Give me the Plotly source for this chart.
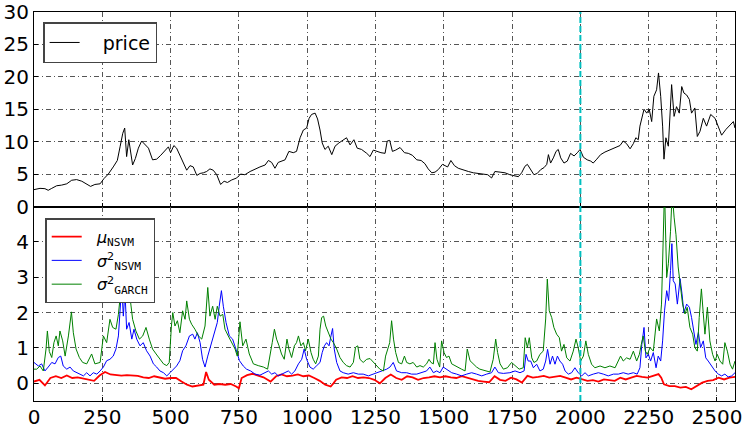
import plotly.graph_objects as go

# ---- data ----
price_t = [0,22,40,52,65,83,101,120,138,156,175,193,207,223,242,256,272,290,305,315,325,332,339,347,354,361,371,382,394,406,419,434,449,464,480,492,500,512,522,534,549,559,571,583,596,608,620,632,644,656,669,683,696,708,724,742,756,772,791,809,827,846,858,870,882,894,906,919,933,949,961,974,986,998,1007,1016,1029,1038,1047,1055,1065,1077,1090,1102,1116,1132,1144,1157,1171,1183,1199,1218,1230,1242,1254,1270,1285,1293,1302,1312,1324,1340,1356,1370,1385,1401,1417,1431,1443,1456,1468,1480,1495,1504,1514,1526,1539,1553,1571,1590,1608,1626,1645,1661,1675,1687,1706,1724,1742,1761,1773,1785,1797,1806,1818,1830,1842,1855,1867,1877,1883,1891,1901,1911,1919,1928,1940,1952,1964,1977,1989,1999,2011,2025,2038,2047,2060,2074,2090,2106,2121,2133,2145,2157,2169,2182,2194,2203,2212,2218,2224,2233,2243,2252,2261,2269,2279,2286,2294,2301,2306,2313,2322,2328,2334,2343,2352,2362,2371,2379,2389,2399,2407,2419,2428,2438,2450,2462,2477,2493,2505,2517,2533,2548,2560,2566]
price = [2.6,2.8,2.75,2.5,2.8,3.2,3.3,3.5,4.05,4.15,3.9,3.5,3.1,3.4,3.5,4.3,5.0,6.1,7.1,9.2,11.3,12.1,7.7,10.3,8.5,6.4,7.4,9.0,10.1,9.5,9.0,7.2,7.3,7.9,8.7,9.2,8.3,9.4,9.0,7.9,6.4,5.6,6.3,6.1,4.8,5.1,5.2,5.4,5.8,5.6,4.9,3.4,3.9,3.7,4.1,4.4,5.0,4.9,5.4,5.8,6.1,6.4,7.1,6.8,5.9,6.8,7.0,7.2,8.5,8.3,8.5,10.6,11.8,12.1,13.6,14.2,14.4,13.5,11.8,9.8,8.8,9.3,8.0,9.3,9.8,10.2,10.6,9.5,10.3,9.0,8.8,8.2,7.7,8.7,8.5,8.3,8.2,10.1,10.2,8.5,8.7,9.1,8.3,8.2,7.9,7.2,7.1,6.6,5.8,5.2,5.3,5.7,6.5,6.3,6.1,7.1,6.3,5.9,5.6,5.4,5.2,5.1,5.0,4.9,4.4,5.4,5.3,5.2,4.9,4.7,4.6,5.2,6.2,6.5,5.7,4.9,5.1,5.7,6.0,6.5,8.0,6.7,7.5,8.5,8.8,7.5,6.7,7.0,8.2,7.8,8.3,8.8,7.6,7.2,7.0,6.7,7.3,8.0,8.4,8.7,8.9,9.2,9.4,10.1,9.7,8.9,9.7,10.6,10.3,12.4,13.4,15.0,14.4,15.0,13.1,17.0,18.0,20.6,17.0,12.4,7.3,10.6,9.3,13.4,18.8,13.9,15.4,14.4,18.5,17.5,17.2,16.5,14.4,15.2,10.8,11.6,13.6,12.4,14.2,13.6,12.4,11.0,11.9,12.5,13.1,12.1]

mu_t = [0,20,40,60,80,100,120,140,160,180,200,220,240,260,280,300,320,340,360,380,400,420,440,460,480,500,520,540,560,580,600,620,630,640,660,680,700,720,740,750,760,780,800,820,840,866,886,906,926,946,966,986,1006,1026,1046,1066,1086,1096,1106,1126,1146,1166,1186,1206,1226,1246,1266,1286,1306,1326,1346,1366,1386,1406,1426,1446,1466,1486,1506,1526,1546,1566,1586,1606,1626,1646,1666,1686,1706,1726,1746,1766,1786,1806,1826,1846,1866,1886,1906,1926,1946,1966,1986,2006,2026,2046,2066,2086,2106,2126,2146,2166,2186,2206,2226,2246,2266,2286,2296,2306,2326,2346,2366,2386,2406,2426,2446,2466,2486,2506,2526,2546,2566]
mu = [0.05,0.1,-0.06,0.15,0.2,0.15,0.22,0.15,0.17,0.13,0.1,0.07,0.22,0.32,0.25,0.23,0.22,0.23,0.22,0.21,0.17,0.15,0.2,0.17,0.13,0.15,0.15,0.05,-0.04,-0.09,-0.06,-0.04,0.32,0.1,-0.04,-0.02,-0.04,-0.02,-0.09,-0.14,0.15,0.23,0.27,0.22,0.17,0.05,0.2,0.25,0.2,0.22,0.25,0.2,0.22,0.15,0.07,-0.04,-0.09,0.0,0.1,0.17,0.15,0.2,0.15,0.17,0.15,0.1,0.0,0.15,0.25,0.15,0.1,0.2,0.17,0.1,0.15,0.17,0.2,0.17,0.2,0.17,0.15,0.2,0.15,0.1,0.07,0.05,0.03,0.2,0.1,0.07,0.16,0.11,0.02,0.21,0.16,0.18,0.21,0.16,0.18,0.21,0.16,0.11,0.16,0.11,0.07,0.09,0.05,0.11,0.09,0.07,0.16,0.11,0.16,0.21,0.18,0.16,0.21,0.26,0.16,-0.03,-0.08,-0.08,-0.12,-0.1,-0.17,-0.08,0.02,0.07,0.09,0.16,0.11,0.16,0.18]

nsvm_t = [0,16,28,40,52,65,77,89,98,107,120,132,144,156,168,181,193,205,217,230,242,254,266,278,290,300,309,315,321,327,333,339,348,358,366,376,388,400,412,425,437,449,461,474,486,498,510,522,534,544,556,569,581,589,598,608,617,626,636,647,659,671,678,686,693,703,715,727,739,752,766,778,793,809,827,846,858,870,882,894,906,919,931,943,955,968,980,989,998,1010,1022,1035,1047,1055,1063,1071,1080,1087,1093,1099,1108,1120,1132,1150,1169,1187,1205,1224,1242,1260,1279,1291,1303,1315,1327,1346,1364,1382,1401,1419,1437,1449,1462,1474,1486,1498,1510,1529,1547,1565,1584,1602,1620,1639,1657,1675,1687,1700,1718,1742,1761,1779,1794,1801,1809,1818,1828,1840,1852,1864,1873,1880,1889,1898,1907,1916,1925,1935,1944,1956,1968,1980,1992,2005,2017,2029,2047,2066,2084,2102,2121,2139,2157,2175,2194,2208,2218,2225,2233,2240,2249,2257,2267,2277,2285,2294,2301,2308,2316,2323,2330,2335,2340,2347,2355,2365,2372,2379,2389,2399,2407,2416,2423,2432,2440,2450,2459,2468,2480,2493,2505,2517,2529,2541,2554,2566]
sigma2_nsvm = [0.59,0.49,0.55,0.35,0.46,0.59,0.55,0.73,0.77,0.49,0.4,0.46,0.35,0.3,0.26,0.21,0.3,0.21,0.3,0.26,0.35,0.46,0.64,0.68,0.77,0.97,1.34,2.18,2.76,1.9,2.6,1.53,1.72,1.25,1.53,1.25,1.06,1.15,0.92,0.77,0.55,0.46,0.35,0.3,0.21,0.3,0.4,0.49,0.64,0.92,1.06,1.34,1.39,1.25,1.43,1.15,0.68,0.46,0.77,1.06,1.39,1.72,2.18,2.62,2.18,1.72,1.34,1.25,0.97,0.64,0.49,0.4,0.35,0.26,0.23,0.3,0.35,0.26,0.3,0.21,0.26,0.3,0.35,0.26,0.35,0.55,0.68,0.97,0.68,0.46,0.4,0.5,0.59,0.87,1.06,1.15,1.06,1.34,1.55,0.97,0.59,0.35,0.3,0.26,0.3,0.26,0.26,0.21,0.26,0.3,0.35,0.4,0.46,0.59,0.35,0.3,0.3,0.26,0.26,0.3,0.35,0.46,0.3,0.35,0.3,0.46,0.4,0.3,0.26,0.21,0.26,0.3,0.26,0.21,0.26,0.3,0.46,0.3,0.28,0.3,0.35,0.3,0.35,0.82,0.63,0.63,0.44,0.54,0.35,0.4,0.63,0.96,0.54,0.77,0.54,0.77,0.63,0.54,0.35,0.26,0.3,0.44,0.3,0.21,0.3,0.21,0.26,0.3,0.26,0.21,0.26,0.26,0.3,0.26,0.3,0.26,0.44,1.1,1.58,0.72,0.82,0.63,0.87,0.44,0.77,0.63,1.2,2.05,2.62,2.34,3.19,3.95,2.9,2.81,2.24,2.96,2.53,2.0,2.24,2.15,1.86,1.48,1.1,1.44,1.01,1.2,0.72,0.63,0.49,0.35,0.26,0.21,0.26,0.18,0.21,0.3]

garch_t = [0,10,22,34,44,49,56,65,73,81,89,95,105,114,126,137,144,154,166,178,193,211,223,242,254,266,278,288,300,309,317,322,329,337,345,351,361,373,386,398,410,422,434,447,461,474,486,495,503,508,516,525,534,544,553,559,569,577,589,602,614,626,636,644,654,663,671,681,691,699,711,724,736,744,754,764,776,788,803,821,840,855,864,872,880,888,897,906,916,926,933,943,953,961,968,977,986,994,1004,1014,1022,1031,1041,1047,1053,1060,1068,1077,1087,1096,1108,1120,1132,1144,1157,1169,1177,1185,1193,1205,1218,1230,1242,1254,1266,1279,1287,1295,1302,1309,1316,1324,1334,1346,1356,1364,1376,1388,1401,1413,1425,1437,1446,1453,1462,1468,1475,1485,1492,1501,1510,1519,1529,1541,1553,1565,1578,1586,1596,1608,1620,1632,1651,1669,1681,1690,1697,1706,1718,1733,1748,1761,1776,1791,1798,1806,1813,1822,1830,1840,1852,1864,1873,1879,1886,1895,1903,1913,1923,1931,1940,1950,1962,1974,1984,1992,2001,2011,2020,2029,2041,2053,2072,2090,2108,2127,2139,2147,2157,2169,2182,2194,2206,2216,2223,2230,2238,2245,2255,2267,2279,2289,2297,2304,2308,2316,2322,2330,2336,2343,2350,2358,2367,2374,2383,2391,2401,2411,2419,2428,2435,2443,2450,2456,2465,2474,2484,2493,2501,2511,2521,2529,2538,2548,2557,2566]
sigma2_garch = [0.4,0.4,0.49,0.35,0.97,1.48,0.9,0.73,1.15,1.34,1.06,1.48,1.2,0.77,1.34,2.02,1.43,0.97,0.73,0.59,0.55,0.83,0.55,0.59,1.34,1.15,1.81,1.58,1.53,1.95,2.57,3.3,2.95,2.4,2.85,2.47,1.81,1.48,1.25,1.34,1.58,1.25,0.97,0.83,0.68,0.55,0.5,0.59,1.62,2.0,1.62,1.77,1.43,2.05,1.81,2.33,1.81,1.67,1.53,1.34,1.25,1.62,2.71,1.9,2.18,1.81,2.18,1.9,1.95,1.53,1.34,1.15,0.97,0.77,1.74,1.06,1.25,0.83,0.55,0.5,0.46,0.4,0.87,1.15,1.53,1.25,1.06,0.83,0.68,1.25,0.97,0.73,1.06,1.15,1.34,1.06,1.15,0.92,1.25,0.87,0.68,0.55,0.77,1.53,1.86,1.9,1.62,1.43,1.25,1.15,0.97,0.73,0.59,0.5,0.46,0.59,1.02,1.06,0.68,0.59,0.68,0.7,0.59,0.51,0.4,0.35,0.77,0.97,1.15,1.77,1.25,0.87,0.59,0.55,0.77,0.59,0.55,0.59,0.46,0.5,0.46,0.55,0.68,0.59,0.55,1.15,0.68,0.46,1.2,0.87,0.73,0.77,0.55,0.5,0.46,0.4,0.35,0.97,0.64,0.55,0.46,0.4,0.35,0.32,0.68,1.25,0.87,0.55,0.4,0.44,0.59,0.49,0.4,0.44,1.29,1.01,1.29,0.72,0.59,0.63,0.82,0.91,1.82,2.95,2.05,1.86,1.58,1.39,1.29,0.91,1.1,0.72,0.63,0.91,1.25,1.01,0.63,0.77,1.2,0.82,0.54,0.44,0.49,0.44,0.49,0.44,0.63,0.77,0.63,0.72,0.68,0.91,0.63,0.82,1.1,1.34,0.91,0.82,1.01,0.91,1.82,1.48,2.24,5.3,5.5,3.0,3.38,4.3,5.4,4.7,4.2,3.29,2.72,2.24,1.96,2.15,1.58,1.39,1.01,0.91,1.86,2.67,1.96,1.39,2.15,1.2,0.82,0.63,0.82,0.63,0.54,1.15,0.91,0.54,0.4,0.63]

x_ticks = [0, 250, 500, 750, 1000, 1250, 1500, 1750, 2000, 2250, 2500]
price_ticks = [0, 5, 10, 15, 20, 25, 30]
vol_ticks = [0, 1, 2, 3, 4]
split_t = 2000

FONT = "DejaVu Sans"
MONO = "DejaVu Sans Mono"
SP = "\u00a0" * 3
SP2 = "\u00a0" * 2

def sub(s):
    return "<sub><span style='font-family:%s'>%s</span></sub>" % (MONO, s)

fig = go.Figure()
fig.add_trace(go.Scatter(x=price_t, y=price, mode="lines", name=SP + "price",
                         line=dict(color="black", width=1), xaxis="x", yaxis="y",
                         legend="legend", showlegend=True))
fig.add_trace(go.Scatter(x=mu_t, y=mu, mode="lines",
                         name=SP2 + "<i>μ</i>" + sub("NSVM"),
                         line=dict(color="#ff0000", width=1.8), xaxis="x2", yaxis="y2",
                         legend="legend2", showlegend=True))
fig.add_trace(go.Scatter(x=nsvm_t, y=sigma2_nsvm, mode="lines",
                         name=SP2 + "<i>σ</i><sup>2</sup>" + sub("NSVM"),
                         line=dict(color="#0000ff", width=1), xaxis="x2", yaxis="y2",
                         legend="legend2", showlegend=True))
fig.add_trace(go.Scatter(x=garch_t, y=sigma2_garch, mode="lines",
                         name=SP2 + "<i>σ</i><sup>2</sup>" + sub("GARCH"),
                         line=dict(color="#008000", width=1), xaxis="x2", yaxis="y2",
                         legend="legend2", showlegend=True))

grid = dict(showgrid=True, gridcolor="#555555", gridwidth=1, griddash="5px,3px,1px,3px",
            showline=True, linecolor="black", linewidth=1, mirror=True,
            ticks="inside", ticklen=4, tickcolor="black", zeroline=False,
            automargin=False,
            tickfont=dict(family=FONT, size=20, color="black"))

fig.update_layout(
    width=747, height=426,
    margin=dict(l=34, r=12, t=12, b=25),
    paper_bgcolor="white", plot_bgcolor="white",
    font=dict(family=FONT, color="black"),
    showlegend=True,
    xaxis=dict(domain=[0, 1], range=[0, 2566], anchor="y", tickvals=x_ticks,
               showticklabels=False, **grid),
    yaxis=dict(domain=[0.5, 1], range=[0, 30], anchor="x", tickvals=price_ticks, **grid),
    xaxis2=dict(domain=[0, 1], range=[0, 2566], anchor="y2", tickvals=x_ticks,
                matches="x", ticklabelstandoff=-2, **grid),
    yaxis2=dict(domain=[0, 0.5], range=[-0.5, 5.0], anchor="x2", tickvals=vol_ticks, **grid),
    legend=dict(x=0.013, y=0.974, xanchor="left", yanchor="top", bgcolor="white",
                bordercolor="#444444", borderwidth=1.5,
                font=dict(family=FONT, size=19, color="black")),
    legend2=dict(x=0.016, y=0.470, xanchor="left", yanchor="top", bgcolor="white",
                 bordercolor="#444444", borderwidth=1.5, tracegroupgap=0,
                 font=dict(family=FONT, size=16, color="black")),
    shapes=[dict(type="line", xref="x", yref="paper", x0=split_t, x1=split_t, y0=0, y1=1,
                 line=dict(color="#00bfbf", width=2, dash="6px,3px"), layer="above")],
)

fig.write_html("out.html", config={"displayModeBar": False},
               post_script="document.body.style.margin='0';document.body.style.padding='0';")
